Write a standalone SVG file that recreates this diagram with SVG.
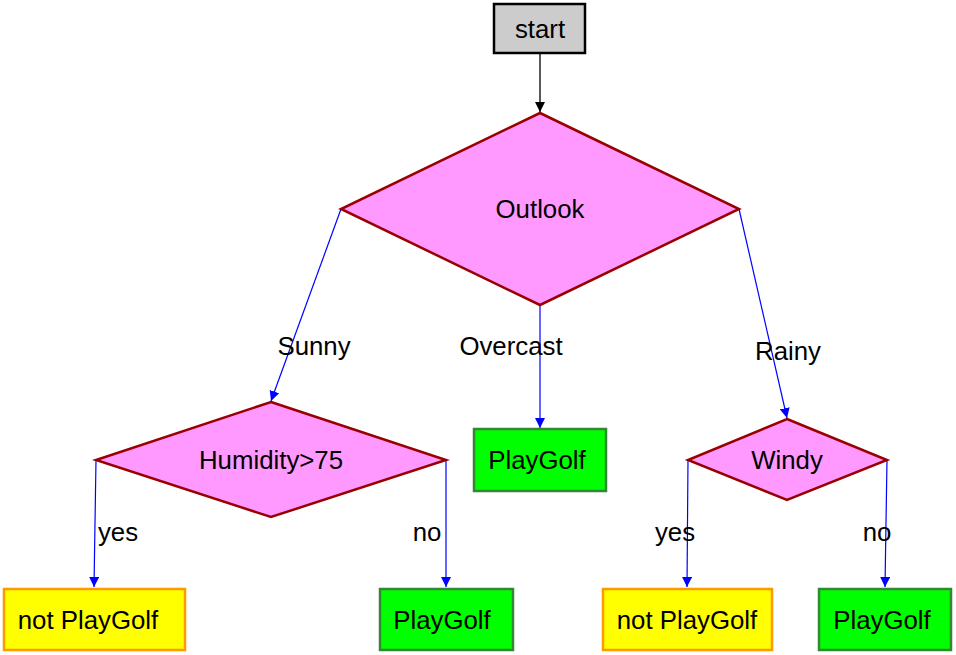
<svg xmlns="http://www.w3.org/2000/svg" width="956" height="655" viewBox="0 0 956 655">
<defs>
<marker id="ab" viewBox="0 0 10 10" refX="10" refY="5" markerWidth="10" markerHeight="10" markerUnits="userSpaceOnUse" orient="auto">
<path d="M0,0 L10,5 L0,10 Z" fill="#0000ff"/>
</marker>
<marker id="ak" viewBox="0 0 10 10" refX="10" refY="5" markerWidth="10" markerHeight="10" markerUnits="userSpaceOnUse" orient="auto">
<path d="M0,0 L10,5 L0,10 Z" fill="#000000"/>
</marker>
</defs>
<style>
text{font-family:"Liberation Sans",Arial,sans-serif;font-size:25.8px;fill:#000;text-anchor:middle}
.dia{fill:#ff99ff;stroke:#990000;stroke-width:2.5}
.green{fill:#00ff00;stroke:#338833;stroke-width:2.5}
.yellow{fill:#ffff00;stroke:#ff9900;stroke-width:2.5}
.start{fill:#cccccc;stroke:#000;stroke-width:2.5}
.e{fill:none;stroke:#0000ff;stroke-width:1.2;marker-end:url(#ab)}
</style>
<rect width="956" height="655" fill="#fff"/>
<g id="connectors">
<line x1="540" y1="54" x2="540" y2="112" stroke="#000" stroke-width="1.3" marker-end="url(#ak)"/>
<line class="e" x1="341" y1="209" x2="271" y2="401"/>
<line class="e" x1="540" y1="305" x2="540" y2="428"/>
<line class="e" x1="739" y1="209" x2="787" y2="418"/>
<line class="e" x1="96" y1="460" x2="94" y2="587"/>
<line class="e" x1="446" y1="460" x2="446" y2="587"/>
<line class="e" x1="688" y1="460" x2="687" y2="587"/>
<line class="e" x1="887" y1="460" x2="885" y2="587"/>
<text x="314" y="355">Sunny</text>
<text x="511" y="355">Overcast</text>
<text x="788" y="360">Rainy</text>
<text x="118" y="541">yes</text>
<text x="427" y="541">no</text>
<text x="675" y="541">yes</text>
<text x="877" y="541">no</text>
</g>
<g id="start"><rect class="start" x="494" y="4" width="91" height="49"/><text x="540" y="38">start</text></g>
<g id="outlook"><polygon class="dia" points="540,113 739,209 540,305 341,209"/><text x="540" y="218">Outlook</text></g>
<g id="humidity"><polygon class="dia" points="271,402 446,460 271,517 96,460"/><text x="271" y="469">Humidity&gt;75</text></g>
<g id="windy"><polygon class="dia" points="787,419 887,460 787,500 688,460"/><text x="787" y="469">Windy</text></g>
<g id="play1"><rect class="green" x="474" y="429" width="132" height="62"/><text x="537" y="469">PlayGolf</text></g>
<g id="notplay1"><rect class="yellow" x="4" y="589" width="181" height="61"/><text x="88" y="629">not PlayGolf</text></g>
<g id="play2"><rect class="green" x="380" y="589" width="133" height="61"/><text x="442" y="629">PlayGolf</text></g>
<g id="notplay2"><rect class="yellow" x="603" y="589" width="169" height="61"/><text x="687" y="629">not PlayGolf</text></g>
<g id="play3"><rect class="green" x="819" y="589" width="132" height="61"/><text x="882" y="629">PlayGolf</text></g>
</svg>
